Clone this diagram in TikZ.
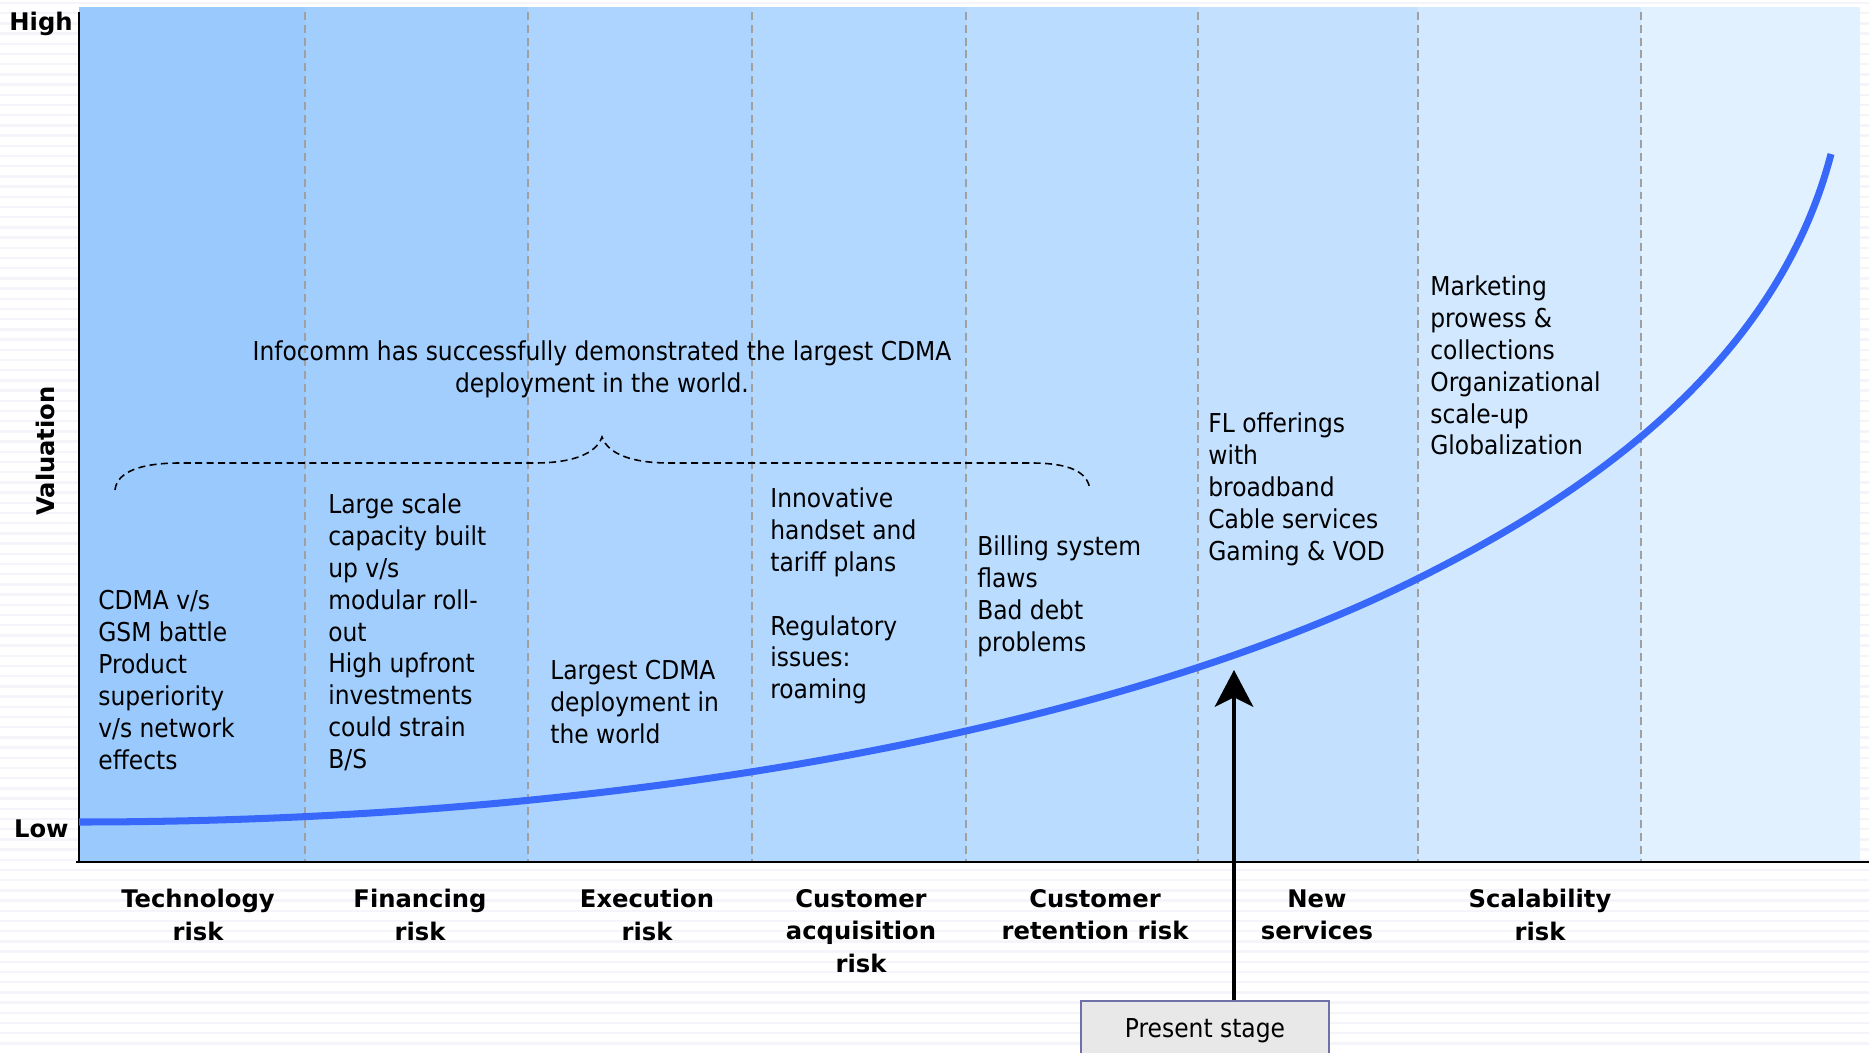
\documentclass[tikz,border=0pt]{standalone}
\usepackage{fontspec}
\setmainfont{DejaVu Sans Condensed}
\newfontfamily\headfont{DejaVu Sans}
\usetikzlibrary{arrows.meta}

% band fills, lightening from left to right
\definecolor{bandA}{HTML}{9ACAFD}
\definecolor{bandB}{HTML}{A2CEFE}
\definecolor{bandC}{HTML}{ACD4FF}
\definecolor{bandD}{HTML}{B3D8FF}
\definecolor{bandE}{HTML}{BADCFF}
\definecolor{bandF}{HTML}{C3E1FF}
\definecolor{bandG}{HTML}{D1E8FF}
\definecolor{bandH}{HTML}{E2F1FF}
\definecolor{curveblue}{HTML}{3868FA}
\definecolor{gridgray}{HTML}{A0A0A0}
\definecolor{stripe}{HTML}{F4F4FA}
\definecolor{boxfill}{HTML}{E8E8E8}
\definecolor{boxline}{HTML}{7070A8}

\begin{document}
\begin{tikzpicture}[x=0.02cm,y=-0.02cm,
  basefont/.style={font=\fontsize{14.8}{18.2}\selectfont},
  headfontstyle/.style={font=\headfont\fontsize{13.8}{18.4}\selectfont\bfseries},
  txt/.style={basefont, inner sep=0pt, align=left, anchor=north west},
  risk/.style={headfontstyle, inner sep=0pt, align=center, anchor=north},
  axislabel/.style={headfontstyle, inner sep=0pt},
  divider/.style={gridgray, line width=1.1pt, dash pattern=on 4.5pt off 2.8pt},
  bracket/.style={black, line width=0.9pt, dash pattern=on 4pt off 2.5pt},
  valuecurve/.style={curveblue, line width=4pt},
  stagebox/.style={draw=boxline, fill=boxfill, line width=1.1pt, basefont,
    minimum width=4.96cm, minimum height=1.2cm, inner sep=0pt},
  pointer/.style={line width=2pt, -{Stealth[length=21pt,width=22pt,inset=5.5pt]}}]

\useasboundingbox (0,0) rectangle (1869,1053);

% page background with faint ruled stripes
\fill[white] (0,0) rectangle (1869,1053);
\foreach \yy in {3,13.2,...,1053}
  \draw[stripe, line width=1.4pt] (0,\yy) -- (1869,\yy);

% risk bands
\fill[bandA] (79,7) rectangle (305,862);
\fill[bandB] (305,7) rectangle (528,862);
\fill[bandC] (528,7) rectangle (752,862);
\fill[bandD] (752,7) rectangle (966,862);
\fill[bandE] (966,7) rectangle (1198,862);
\fill[bandF] (1198,7) rectangle (1418,862);
\fill[bandG] (1418,7) rectangle (1641,862);
\fill[bandH] (1641,7) rectangle (1860,862);

% band dividers
\foreach \xx in {305,528,752,966,1198,1418,1641}
  \draw[divider] (\xx,12) -- (\xx,861);

% axes
\draw[line width=1.7pt] (79,12) -- (79,862);
\draw[line width=1.4pt] (76,862) -- (1869,862);

% axis labels
\node[axislabel, anchor=base east] (high) at (73,31) {High};
\node[axislabel, anchor=base east] (low) at (69,837) {Low};
\node[axislabel, rotate=90] (valuation) at (45,451) {Valuation};

% valuation curve
\draw[valuecurve] (79,822) .. controls (629,822) and (1119,728) .. (1419,578)
  .. controls (1569,503) and (1774,374) .. (1831,154);

% summary statement and its brace
\node[basefont, inner sep=0pt, align=center, anchor=north] (summary) at (602,340)
  {Infocomm has successfully demonstrated the largest CDMA\\deployment in the world.};
\draw[bracket] (115,490) .. controls (117,472) and (140,463) .. (180,463)
  -- (535,463) .. controls (572,463) and (596,454) .. (602,437)
  .. controls (608,454) and (632,463) .. (669,463)
  -- (1031,463) .. controls (1070,463) and (1088,472) .. (1090,490);

% band notes
\node[txt] (techNote) at (98,590)
  {CDMA v/s\\GSM battle\\Product\\superiority\\v/s network\\effects};
\node[txt] (finNote) at (328,493)
  {Large scale\\capacity built\\up v/s\\modular roll-\\out\\High upfront\\investments\\could strain\\B/S};
\node[txt] (execNote) at (550,660)
  {Largest CDMA\\deployment in\\the world};
\node[txt] (acqNote) at (770,487)
  {Innovative\\handset and\\tariff plans\\[18.2pt]Regulatory\\issues:\\roaming};
\node[txt] (retNote) at (977,535)
  {Billing system\\flaws\\Bad debt\\problems};
\node[txt] (newNote) at (1208,412)
  {FL offerings\\with\\broadband\\Cable services\\Gaming \& VOD};
\node[txt] (scaleNote) at (1430,275)
  {Marketing\\prowess \&\\collections\\Organizational\\scale-up\\Globalization};

% band titles
\node[risk] (tech) at (198,889) {Technology\\risk};
\node[risk] (fin) at (420,889) {Financing\\risk};
\node[risk] (exec) at (647,889) {Execution\\risk};
\node[risk] (acq) at (861,889) {Customer\\acquisition\\risk};
\node[risk] (ret) at (1095,889) {Customer\\retention risk};
\node[risk] (newsvc) at (1317,889) {New\\services};
\node[risk] (scal) at (1540,889) {Scalability\\risk};

% present stage marker
\node[stagebox] (present) at (1205,1031) {Present stage};
\coordinate (tip) at (1234,670);
\draw[pointer] (tip |- present.north) -- (tip);

\end{tikzpicture}
\end{document}
